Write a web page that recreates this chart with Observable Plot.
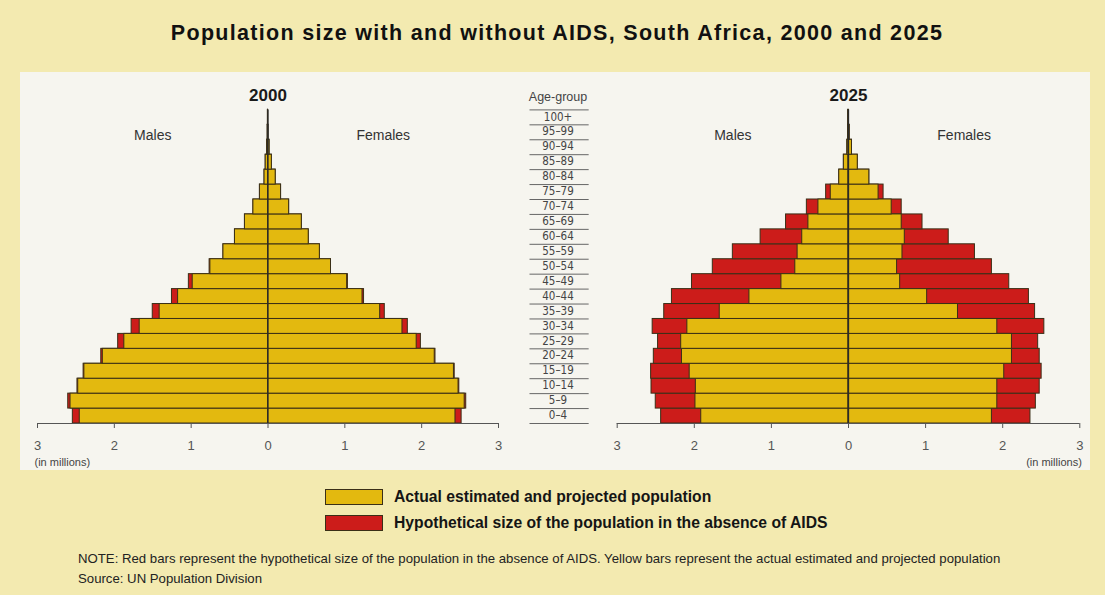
<!DOCTYPE html>
<html>
<head>
<meta charset="utf-8">
<script src="https://cdn.jsdelivr.net/npm/d3@7"></script>
<script src="https://cdn.jsdelivr.net/npm/@observablehq/plot@0.6"></script>
<style>
  html, body { margin: 0; padding: 0; background: #f3eab0; }
  #page { position: relative; width: 1105px; height: 595px; overflow: hidden; background: #f3eab0;
          font-family: "Liberation Sans", Arial, sans-serif; }
  #panel { position: absolute; left: 20px; top: 72px; width: 1070px; height: 398px; background: #f6f5ef; }
  #title { position: absolute; left: 0; top: 19px; width: 1114px; text-align: center; font-weight: bold;
           font-size: 21.5px; letter-spacing: 1.3px; color: #111; line-height: 28px; }
  .plotbox { position: absolute; top: 80px; }
  .plotbox svg { overflow: visible; }
  .legend-row { position: absolute; left: 325px; height: 16px; display: flex; align-items: center; }
  .swatch { width: 56px; height: 14px; border: 1px solid #3a2f17; margin-right: 11px; }
  .legend-text { font-weight: bold; font-size: 15.7px; color: #151515; white-space: nowrap; }
  .note { position: absolute; left: 78px; font-size: 13.2px; color: #222; white-space: nowrap; }
</style>
</head>
<body>
<div id="page">
  <div id="panel"></div>
  <div id="title">Population size with and without AIDS, South Africa, 2000 and 2025</div>
  <div class="plotbox" id="p2000" style="left:0px"></div>
  <div class="plotbox" id="p2025" style="left:580px"></div>
  <div class="legend-row" style="top:489px"><div class="swatch" style="background:#e3b90f"></div><div class="legend-text">Actual estimated and projected population</div></div>
  <div class="legend-row" style="top:515px"><div class="swatch" style="background:#cc1c1a"></div><div class="legend-text">Hypothetical size of the population in the absence of AIDS</div></div>
  <div class="note" style="top:551px">NOTE: Red bars represent the hypothetical size of the population in the absence of AIDS. Yellow bars represent the actual estimated and projected population</div>
  <div class="note" style="top:571px">Source: UN Population Division</div>
</div>
<script>
// ---- data (millions), ordered from 0–4 up to 100+ ----
const ageGroups = ["0–4","5–9","10–14","15–19","20–24","25–29","30–34","35–39","40–44","45–49","50–54","55–59","60–64","65–69","70–74","75–79","80–84","85–89","90–94","95–99","100+"];

const male2000Actual   = [2.45,2.57,2.47,2.39,2.15,1.87,1.67,1.41,1.17,0.98,0.75,0.58,0.43,0.30,0.19,0.105,0.045,0.03,0.012,0.004,0.001];
const male2000NoAids   = [2.54,2.60,2.48,2.40,2.17,1.95,1.775,1.50,1.25,1.03,0.76,0.58,0.43,0.30,0.19,0.105,0.045,0.03,0.012,0.004,0.001];
const female2000Actual = [2.44,2.56,2.48,2.42,2.17,1.935,1.75,1.46,1.23,1.03,0.82,0.675,0.53,0.44,0.275,0.17,0.10,0.05,0.02,0.006,0.001];
const female2000NoAids = [2.52,2.58,2.49,2.43,2.18,1.99,1.82,1.52,1.25,1.04,0.82,0.675,0.53,0.44,0.275,0.17,0.10,0.05,0.02,0.006,0.001];

const male2025Actual   = [1.91,1.985,1.98,2.06,2.16,2.17,2.09,1.67,1.285,0.87,0.69,0.66,0.60,0.52,0.39,0.23,0.12,0.06,0.015,0.005,0.001];
const male2025NoAids   = [2.43,2.50,2.555,2.56,2.525,2.47,2.54,2.39,2.29,2.03,1.76,1.50,1.14,0.81,0.54,0.29,0.12,0.06,0.015,0.005,0.001];
const female2025Actual = [1.86,1.93,1.93,2.02,2.12,2.12,1.93,1.42,1.02,0.67,0.63,0.70,0.73,0.69,0.56,0.39,0.27,0.12,0.045,0.015,0.003];
const female2025NoAids = [2.36,2.43,2.48,2.505,2.48,2.46,2.54,2.42,2.34,2.085,1.86,1.64,1.30,0.96,0.69,0.455,0.27,0.12,0.045,0.015,0.003];

const xTicks = [-3, -2, -1, 0, 1, 2, 3];
const sexLabels = ["Males", "Females"];
const years = ["2000", "2025"];
const ageHeader = "Age-group";

// ---- styling ----
const YELLOW = "#e3b90f", RED = "#cc1c1a", EDGE = "#3a2f17";
const H = 395, MT = 29.4, MB = 52;
const BW = (H - MT - MB) / ageGroups.length;
const ageOrder = ageGroups.slice().reverse();
const FONT = '"Liberation Sans", Arial, sans-serif';
const NARROW = '"Liberation Sans Narrow", "DejaVu Sans Condensed", "Liberation Sans", Arial, sans-serif';

function pyramid(year, mA, mN, fA, fN, o, extra = []) {
  const rows = [];
  ageGroups.forEach((age, i) => {
    rows.push({age, actual: -mA[i], noAids: -mN[i]});
    rows.push({age, actual: fA[i], noAids: fN[i]});
  });
  const marks = [
    Plot.barX(rows, {y: "age", x: "noAids", fill: RED, stroke: EDGE, strokeWidth: 1}),
    Plot.barX(rows, {y: "age", x: "actual", fill: YELLOW, stroke: EDGE, strokeWidth: 1}),
    Plot.ruleX([0], {stroke: "#2a2a2a", strokeWidth: 1.3}),
    Plot.ruleY([ageGroups[0]], {x1: -3, x2: 3, dy: BW / 2, stroke: "#555", strokeWidth: 1}),
    Plot.text([{x: 0, t: year}], {x: "x", text: "t", frameAnchor: "top", lineAnchor: "middle", dy: -14.5, fontWeight: "bold", fontSize: 17, fill: "#1a1a1a"}),
    Plot.text([{x: -1.5, t: sexLabels[0]}, {x: 1.5, t: sexLabels[1]}], {x: "x", text: "t", frameAnchor: "top", lineAnchor: "middle", dy: 25.6, fontSize: 14, fill: "#333"}),
    Plot.text([{x: o.unitX, t: "(in millions)"}], {x: "x", text: "t", frameAnchor: "bottom", lineAnchor: "middle", dy: 39, textAnchor: o.unitAnchor, dx: o.unitDx, fontSize: 11, fill: "#444"}),
    ...extra
  ];
  return Plot.plot({
    width: o.width, height: H,
    marginLeft: o.ml, marginRight: o.mr, marginTop: MT, marginBottom: MB,
    style: {background: "transparent", fontFamily: FONT, fontSize: "13px", color: "#555", overflow: "visible"},
    x: {domain: [-3, 3], ticks: xTicks, tickFormat: d => Math.abs(d), tickSize: 5, tickPadding: 12, label: null},
    y: {domain: ageOrder, padding: 0, round: false, axis: null},
    marks
  });
}

// centre column of age-group labels, sharing the 2000 pyramid's y scale
// (placed to the right of the 2000 frame: frame right edge at 498px, column centre at 557.5px)
const COL_DX = 59.5;      // px offset of the column centre from the frame's right edge
const COL_X1 = 3.41, COL_X2 = 4.18;  // column rule extent in the 2000 x-scale units
const ageColumn = [
  Plot.ruleY([ageOrder[0]], {x1: COL_X1, x2: COL_X2, dy: -BW / 2, stroke: "#666", strokeWidth: 1}),
  Plot.ruleY(ageOrder, {x1: COL_X1, x2: COL_X2, dy: BW / 2, stroke: "#666", strokeWidth: 1}),
  Plot.text(ageOrder, {y: d => d, text: d => d, frameAnchor: "right", textAnchor: "middle", dx: COL_DX, dy: -0.5, fill: "#444", fontSize: 11.5, fontFamily: NARROW}),
  Plot.text([ageHeader], {text: d => d, frameAnchor: "top-right", textAnchor: "middle", lineAnchor: "middle", dx: COL_DX, dy: -13, fill: "#444", fontSize: 12.5})
];

document.getElementById("p2000").appendChild(
  pyramid(years[0], male2000Actual, male2000NoAids, female2000Actual, female2000NoAids,
    {width: 620, ml: 37, mr: 122, unitX: -3, unitAnchor: "start", unitDx: -3}, ageColumn));

document.getElementById("p2025").appendChild(
  pyramid(years[1], male2025Actual, male2025NoAids, female2025Actual, female2025NoAids,
    {width: 525, ml: 36.7, mr: 25.7, unitX: 3, unitAnchor: "end", unitDx: 2}));
</script>
</body>
</html>
